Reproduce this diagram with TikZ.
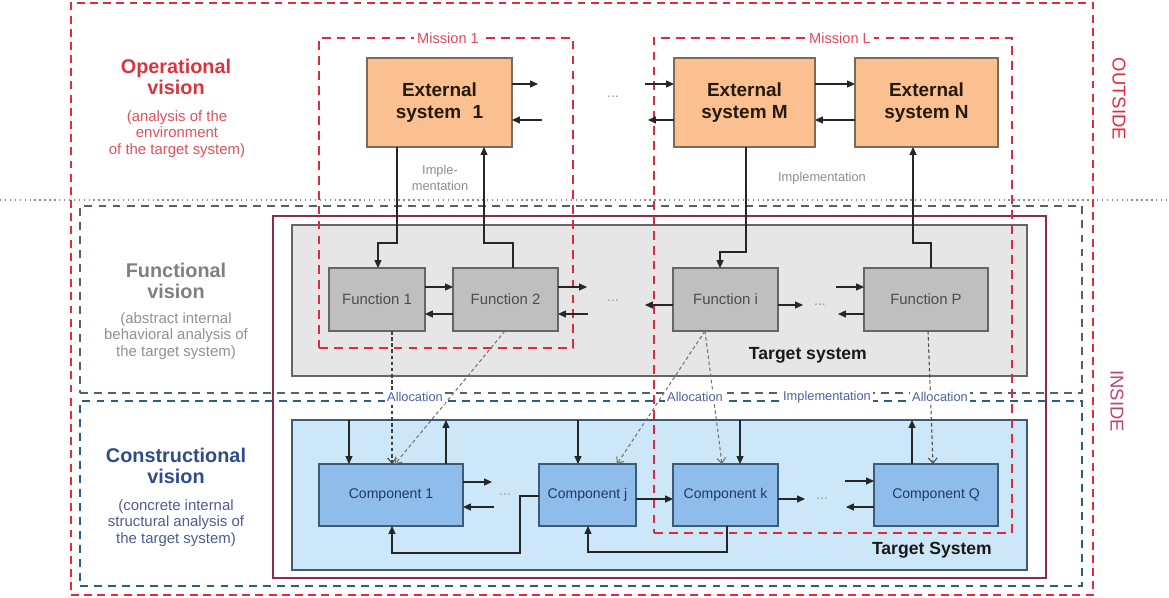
\documentclass[tikz,border=0pt]{standalone}
\usepackage{fontspec}
\setmainfont{Liberation Sans}
\usetikzlibrary{arrows.meta,fit,calc}
\newlength{\pu}\setlength{\pu}{0.02cm}
\definecolor{outred}{HTML}{E8283C}
\definecolor{misred}{HTML}{E02840}
\definecolor{maroonb}{HTML}{8E2A4E}
\definecolor{fvdash}{HTML}{4F6464}
\definecolor{cvdash}{HTML}{2E5E7E}
\definecolor{orangef}{HTML}{FAC08F}
\definecolor{orangeb}{HTML}{7F6A5A}
\definecolor{funcf}{HTML}{BFBFBF}
\definecolor{tsgray}{HTML}{E6E6E6}
\definecolor{tsblue}{HTML}{CCE8F8}
\definecolor{compf}{HTML}{8FBDEB}
\definecolor{compb}{HTML}{3D5A78}
\definecolor{compt}{HTML}{1F3A66}
\definecolor{optext}{HTML}{D9343C}
\definecolor{opsub}{HTML}{E0505A}
\definecolor{fntext}{HTML}{7F7F7F}
\definecolor{fnsub}{HTML}{909090}
\definecolor{cstext}{HTML}{2E4C8C}
\definecolor{cssub}{HTML}{505A90}
\definecolor{alloct}{HTML}{4F5FA0}
\definecolor{insidec}{HTML}{C04070}
\begin{document}
\begin{tikzpicture}[x=0.02cm,y=-0.02cm,
  region/.style={inner sep=0pt, outer sep=0pt},
  sz/.style 2 args={inner sep=0pt, outer sep=0pt, minimum width=#1*\pu, minimum height=#2*\pu},
  outbox/.style={region, draw=outred, line width=1.3pt, dash pattern=on 4.5pt off 3pt},
  misbox/.style={region, draw=misred, line width=1.3pt, dash pattern=on 5pt off 3.5pt},
  fvbox/.style={region, draw=fvdash, line width=1pt, dash pattern=on 4.5pt off 3.5pt},
  cvbox/.style={region, draw=cvdash, line width=1pt, dash pattern=on 4.5pt off 3.5pt},
  marbox/.style={region, draw=maroonb, line width=0.8pt},
  tsfbox/.style={region, draw=black!60, fill=tsgray, line width=0.8pt},
  tscbox/.style={region, draw=compb, fill=tsblue, line width=0.8pt},
  ext/.style={draw=orangeb, fill=orangef, line width=0.8pt, align=center,
    font=\fontsize{10.8}{12.8}\selectfont\bfseries, text=black!80!brown},
  func/.style={draw=black!60, fill=funcf, line width=0.8pt,
    font=\fontsize{8.5}{10}\selectfont, text=black!70},
  comp/.style={draw=compb, fill=compf, line width=0.8pt,
    font=\fontsize{8}{10}\selectfont, text=compt},
  arr/.style={line width=0.6pt, draw=black!85, -{Triangle[length=4.5pt,width=4pt]}},
  alloc/.style={line width=0.6pt, draw=black!55, dash pattern=on 2pt off 1.5pt,
    -{Straight Barb[length=3pt,width=5pt]}},
  ellip/.style={text=black!40, font=\fontsize{8}{9}\selectfont},
  lbl/.style={fill=white, inner sep=1.5pt, font=\fontsize{7.3}{8.5}\selectfont},
  head/.style={align=center, font=\fontsize{11.3}{12}\selectfont\bfseries},
  sub/.style={align=center, font=\fontsize{8.5}{9.4}\selectfont},
  tstext/.style={font=\fontsize{10}{12}\selectfont\bfseries, text=black!90}
]
\useasboundingbox (0,0) rectangle (1169,598);

% horizontal separator
\draw[black!45, line width=0.8pt, dotted] (0,200) -- (1169,200);

% regions
\node[fvbox, fit={(80,206)(1082,393)}] (fv) {};
\node[cvbox, fit={(80,401)(1082,586)}] (cv) {};
\node[marbox, fit={(273,216)(1046,578)}] (mar) {};
\node[tsfbox, fit={(292,225)(1027,376)}] (tsf) {};
\node[tscbox, fit={(292,420)(1027,570)}] (tsc) {};
\node[outbox, fit={(71,3)(1093,595)}] (out) {};
\node[misbox, fit={(319,38)(573,348)}] (m1) {};
\node[misbox, fit={(654,38)(1012,533)}] (mL) {};
\node[fill=white, inner sep=2pt, text=misred!85, font=\fontsize{8.3}{10}\selectfont] (m1l) at (448,38) {Mission 1};
\node[fill=white, inner sep=2pt, text=misred!85, font=\fontsize{8.3}{10}\selectfont] (mLl) at (840,38) {Mission L};

% left texts
\node[head, text=optext] (oph) at (176,77) {Operational\\vision};
\node[sub, text=opsub] (ops) at (177,134) {(analysis of the\\environment\\of the target system)};
\node[head, text=fntext] (fnh) at (176,281) {Functional\\vision};
\node[sub, text=fnsub] (fns) at (176,336) {(abstract internal\\behavioral analysis of\\the target system)};
\node[head, text=cstext] (csh) at (176,466) {Constructional\\vision};
\node[sub, text=cssub] (css) at (176,523) {(concrete internal\\structural analysis of\\the target system)};

% right texts
\node[rotate=-90, text=outred, font=\fontsize{10.5}{12}\selectfont] (outl) at (1119,99) {OUTSIDE};
\node[rotate=-90, text=insidec, font=\fontsize{10.5}{12}\selectfont] (inl) at (1117,401) {INSIDE};

% target system labels
\node[tstext, anchor=east] (tsfl) at (873,355) {Target system};
\node[tstext, anchor=east] (tscl) at (998,550) {Target System};

% external systems
\node[ext, sz={145}{89}] (es1) at (439.5,102.5) {External\\system\hspace{0.6em}1};
\node[ext, sz={141}{89}] (esM) at (744.5,102.5) {External\\system M};
\node[ext, sz={143}{89}] (esN) at (926.5,102.5) {External\\system N};

% functions
\node[func, sz={96}{63}] (f1) at (377,299.5) {Function 1};
\node[func, sz={105}{63}] (f2) at (505.5,299.5) {Function 2};
\node[func, sz={105}{63}] (fi) at (725.5,299.5) {Function i};
\node[func, sz={124}{63}] (fp) at (926,299.5) {Function P};

% components
\node[comp, sz={144}{62}] (c1) at (391,495) {Component 1};
\node[comp, sz={97}{62}] (cj) at (587.5,495) {Component j};
\node[comp, sz={105}{62}] (ck) at (725.5,495) {Component k};
\node[comp, sz={124}{62}] (cq) at (936,495) {Component Q};

% ellipses
\node[ellip] (d1) at (613,97) {...};
\node[ellip] (d2) at (613,301) {...};
\node[ellip] (d3) at (820,305) {...};
\node[ellip] (d4) at (505,495) {...};
\node[ellip] (d5) at (822,499) {...};

% helper coordinates
\coordinate (rowA) at (0,84);
\coordinate (rowB) at (0,120);
\coordinate (rowC) at (0,287);
\coordinate (rowD) at (0,314);
\coordinate (rowF) at (0,499);
\coordinate (e1o) at (538,84);
\coordinate (e1i) at (542,120);
\coordinate (eMi) at (645,84);
\coordinate (eMo) at (648,120);
\coordinate (f2o) at (587,287);
\coordinate (f2i) at (588,314);
\coordinate (fil) at (645,305);
\coordinate (fir) at (803,305);
\coordinate (fpi) at (836,287);
\coordinate (fpo) at (838,314);
\coordinate (c1o) at (492,482);
\coordinate (c1i) at (494,507);
\coordinate (cko) at (805,499);
\coordinate (cqi) at (845,481);
\coordinate (cqo) at (846,507);

% external arrows
\draw[arr] (es1.east |- e1o) -- (e1o);
\draw[arr] (e1i) -- (es1.east |- e1i);
\draw[arr] (eMi) -- (esM.west |- eMi);
\draw[arr] (esM.west |- eMo) -- (eMo);
\draw[arr] (esM.east |- rowA) -- (esN.west |- rowA);
\draw[arr] (esN.west |- rowB) -- (esM.east |- rowB);

% implementation links
\coordinate (v1) at (397,243); \coordinate (v1b) at (378,243);
\draw[arr] (es1.south -| v1) -- (v1) -- (v1b) -- (f1.north -| v1b);
\coordinate (v2) at (513,243); \coordinate (v2b) at (484,243);
\draw[arr] (f2.north -| v2) -- (v2) -- (v2b) -- (es1.south -| v2b);
\coordinate (v3) at (746,252); \coordinate (v3b) at (720,252);
\draw[arr] (esM.south -| v3) -- (v3) -- (v3b) -- (fi.north -| v3b);
\coordinate (v4) at (931,243); \coordinate (v4b) at (913,243);
\draw[arr] (fp.north -| v4) -- (v4) -- (v4b) -- (esN.south -| v4b);
\node[text=black!45, align=center, font=\fontsize{7.3}{9.5}\selectfont] (impl1) at (440,178) {Imple-\\mentation};
\node[text=black!45, font=\fontsize{7.3}{9}\selectfont] (impl2) at (822,178) {Implementation};

% function arrows
\draw[arr] (f1.east |- rowC) -- (f2.west |- rowC);
\draw[arr] (f2.west |- rowD) -- (f1.east |- rowD);
\draw[arr] (f2.east |- f2o) -- (f2o);
\draw[arr] (f2i) -- (f2.east |- f2i);
\draw[arr] (fi.west |- fil) -- (fil);
\draw[arr] (fi.east |- fir) -- (fir);
\draw[arr] (fpi) -- (fp.west |- fpi);
\draw[arr] (fp.west |- fpo) -- (fpo);

% allocations
\coordinate (a1) at (392,0);
\coordinate (a2s) at (505,0); \coordinate (a2e) at (395,0);
\coordinate (a3s) at (705,0); \coordinate (a3e) at (617,0); \coordinate (a4e) at (722,0);
\coordinate (a5s) at (928,0); \coordinate (a5e) at (933,0);
\draw[alloc, draw=black!75] (f1.south -| a1) -- (c1.north -| a1);
\draw[alloc] (f2.south -| a2s) -- (c1.north -| a2e);
\draw[alloc] (fi.south -| a3s) -- (cj.north -| a3e);
\draw[alloc] (fi.south -| a3s) -- (ck.north -| a4e);
\draw[alloc, draw=black!70] (fp.south -| a5s) -- (cq.north -| a5e);
\node[lbl, text=alloct] (al1) at (415,397) {Allocation};
\node[lbl, text=alloct] (al2) at (695,397) {Allocation};
\node[lbl, text=alloct] (im3) at (827,397) {Implementation};
\node[lbl, text=alloct] (al3) at (940,397) {Allocation};

% component links from/to target system
\coordinate (k1) at (349,0); \coordinate (k2) at (446,0);
\coordinate (k3) at (578,0); \coordinate (k4) at (740,0); \coordinate (k5) at (912,0);
\draw[arr] (tsc.north -| k1) -- (c1.north -| k1);
\draw[arr] (c1.north -| k2) -- (tsc.north -| k2);
\draw[arr] (tsc.north -| k3) -- (cj.north -| k3);
\draw[arr] (tsc.north -| k4) -- (ck.north -| k4);
\draw[arr] (cq.north -| k5) -- (tsc.north -| k5);

% component arrows
\draw[arr] (c1.east |- c1o) -- (c1o);
\draw[arr] (c1i) -- (c1.east |- c1i);
\draw[arr] (cj.east |- rowF) -- (ck.west |- rowF);
\draw[arr] (ck.east |- cko) -- (cko);
\draw[arr] (cqi) -- (cq.west |- cqi);
\draw[arr] (cq.west |- cqo) -- (cqo);
\coordinate (l0) at (520,496); \coordinate (l1) at (520,553); \coordinate (l2) at (392,553);
\draw[arr] (cj.west |- l0) -- (l0) -- (l1) -- (l2) -- (c1.south -| l2);
\coordinate (l3) at (727,552); \coordinate (l4) at (588,552);
\draw[arr] (ck.south -| l3) -- (l3) -- (l4) -- (cj.south -| l4);
\end{tikzpicture}
\end{document}
